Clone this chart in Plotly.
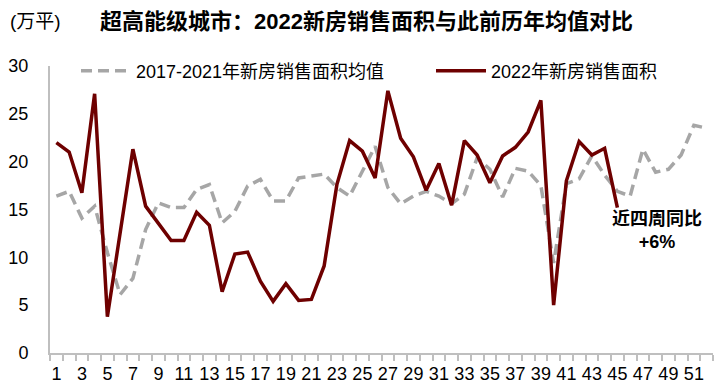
import plotly.graph_objects as go

weeks = list(range(1, 53))
avg_2017_2021 = [16.4, 16.9, 14.1, 15.35, 10.5, 6.1, 7.8, 12.9, 15.7, 15.2,
                 15.2, 17.1, 17.6, 13.6, 14.8, 17.45, 18.15, 15.9, 15.9, 18.3,
                 18.5, 18.7, 17.3, 16.4, 19.0, 21.6, 17.3, 15.6, 16.4, 16.9,
                 16.4, 15.6, 16.6, 20.4, 19.2, 16.3, 19.3, 19.0, 17.5, 9.4,
                 17.7, 18.2, 20.6, 18.6, 16.9, 16.4, 21.3, 18.9, 19.2, 20.7,
                 23.8, 23.5]
sales_2022 = [22.0, 21.0, 16.75, 27.1, 3.8, 12.5, 21.3, 15.35, 13.6, 11.75,
              11.75, 14.7, 13.35, 6.4, 10.35, 10.55, 7.5, 5.4, 7.25, 5.5,
              5.6, 9.1, 17.6, 22.2, 21.1, 18.3, 27.4, 22.45, 20.5, 17.0,
              19.8, 15.45, 22.2, 20.7, 17.8, 20.6, 21.5, 23.1, 26.4, 5.0,
              18.0, 22.1, 20.7, 21.4, 15.2]
x_tick_labels = [str(i) for i in range(1, 53, 2)]
y_ticks = [0, 5, 10, 15, 20, 25, 30]

FONT = "Arial, 'Liberation Sans', 'Noto Sans CJK SC', sans-serif"

# the page body has an 8px default margin, so the figure is drawn 8px smaller
OFF = 8
W, H = 723 - OFF, 392 - OFF
L, R, T, B = 50 - OFF, 10, 66 - OFF, 39
PW, PH = W - L - R, H - T - B


def px_x(sx):
    return (sx - OFF - L) / PW


def px_y(sy):
    return (H - B - (sy - OFF)) / PH


fig = go.Figure()
fig.add_trace(go.Scatter(
    x=weeks, y=avg_2017_2021, mode="lines", name="2017-2021年新房销售面积均值",
    line=dict(color="#A6A6A6", width=3.5, dash="11px,6px"), legend="legend",
))
fig.add_trace(go.Scatter(
    x=weeks[:len(sales_2022)], y=sales_2022, mode="lines", name="2022年新房销售面积",
    line=dict(color="#6E0000", width=3.5), legend="legend2",
))

leg_common = dict(orientation="h", yanchor="middle", xanchor="left",
                  bgcolor="rgba(0,0,0,0)", font=dict(size=18), itemwidth=50)

fig.update_layout(
    width=W, height=H,
    margin=dict(l=L, r=R, t=T, b=B, autoexpand=False),
    paper_bgcolor="white", plot_bgcolor="white",
    font=dict(family=FONT, size=18, color="black"),
    showlegend=True,
    legend=dict(x=px_x(76), y=px_y(71), **leg_common),
    legend2=dict(x=px_x(431), y=px_y(71), **leg_common),
    xaxis=dict(
        range=[0.5, 52.5], tickmode="array",
        tickvals=list(range(1, 53, 2)), ticktext=x_tick_labels,
        ticks="", showgrid=False, zeroline=False,
        showline=True, linecolor="#BFBFBF", linewidth=2,
        tickfont=dict(size=18), ticklabelstandoff=3,
        minor=dict(tickmode="array", tickvals=[i + 0.5 for i in range(0, 53)],
                   ticks="outside", ticklen=6, tickcolor="#BFBFBF", tickwidth=1.5,
                   showgrid=False),
    ),
    yaxis=dict(
        range=[0, 30], tickmode="array", tickvals=y_ticks,
        ticks="", showgrid=False, zeroline=False,
        showline=True, linecolor="#BFBFBF", linewidth=2,
        tickfont=dict(size=18), ticklabelstandoff=16,
    ),
    annotations=[
        dict(text="<b>超高能级城市：2022新房销售面积与此前历年均值对比</b>",
             xref="paper", yref="paper", x=px_x(366), y=px_y(22),
             xanchor="center", yanchor="middle", showarrow=False,
             font=dict(size=22, color="black")),
        dict(text="(万平)", xref="paper", yref="paper",
             x=px_x(8), y=px_y(22), xanchor="left", yanchor="middle",
             showarrow=False, font=dict(size=19, color="black")),
        dict(text="<b>近四周同比</b><br><b>+6%</b>", xref="paper", yref="paper",
             x=px_x(657), y=px_y(231), xanchor="center", yanchor="middle", showarrow=False,
             font=dict(size=18, color="black"), align="center"),
    ],
)

fig.write_html("out.html")
